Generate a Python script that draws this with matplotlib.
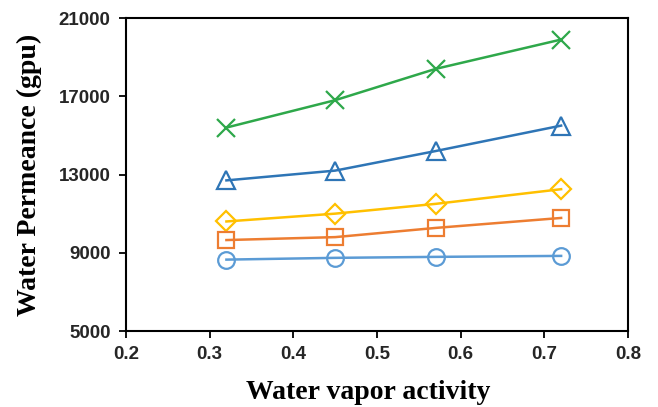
import matplotlib
matplotlib.use("Agg")
import matplotlib.pyplot as plt

# water vapor activity
activity = [0.32, 0.45, 0.57, 0.72]

# permeance for each membrane (gpu)
perm_cross = [15400, 16800, 18400, 19900]
perm_triangle = [12700, 13200, 14200, 15500]
perm_diamond = [10600, 11000, 11500, 12250]
perm_square = [9650, 9800, 10270, 10780]
perm_circle = [8650, 8740, 8790, 8840]

series = [
    (perm_cross, "x", "#2EA84A"),
    (perm_triangle, "^", "#2E75B6"),
    (perm_diamond, "D", "#FFC000"),
    (perm_square, "s", "#ED7D31"),
    (perm_circle, "o", "#5B9BD5"),
]

fig = plt.figure(figsize=(6.58, 4.07), dpi=100)
ax = fig.add_axes([0.1915, 0.1867, 0.763, 0.769])

for vals, mk, col in series:
    ms = 13
    if mk == "D":
        ms = 10
    elif mk == "s":
        ms = 11
    elif mk == "o":
        ms = 12
    ax.plot(activity, vals, color=col, lw=1.8, marker=mk, ms=ms,
            mfc="none", mec=col, mew=1.6)

ax.set_xlim(0.2, 0.8)
ax.set_ylim(5000, 21000)
ax.set_xticks([0.2, 0.3, 0.4, 0.5, 0.6, 0.7, 0.8])
ax.set_yticks(range(5000, 21001, 4000))
ax.set_xticklabels(["0.2", "0.3", "0.4", "0.5", "0.6", "0.7", "0.8"])

ax.tick_params(direction="out", length=5, width=1.3, pad=6,
               labelsize=13.5, labelcolor="#262626")
for lbl in ax.get_xticklabels() + ax.get_yticklabels():
    lbl.set_fontfamily("Liberation Sans")
    lbl.set_fontweight("bold")

for sp in ax.spines.values():
    sp.set_linewidth(1.5)

ax.set_xlabel("Water vapor activity", family="Liberation Serif",
              fontweight="bold", fontsize=20)
ax.set_ylabel("Water Permeance (gpu)", family="Liberation Serif",
              fontweight="bold", fontsize=20, labelpad=12)
ax.xaxis.set_label_coords(0.482, -0.155)

fig.savefig("out.png", dpi=100)
